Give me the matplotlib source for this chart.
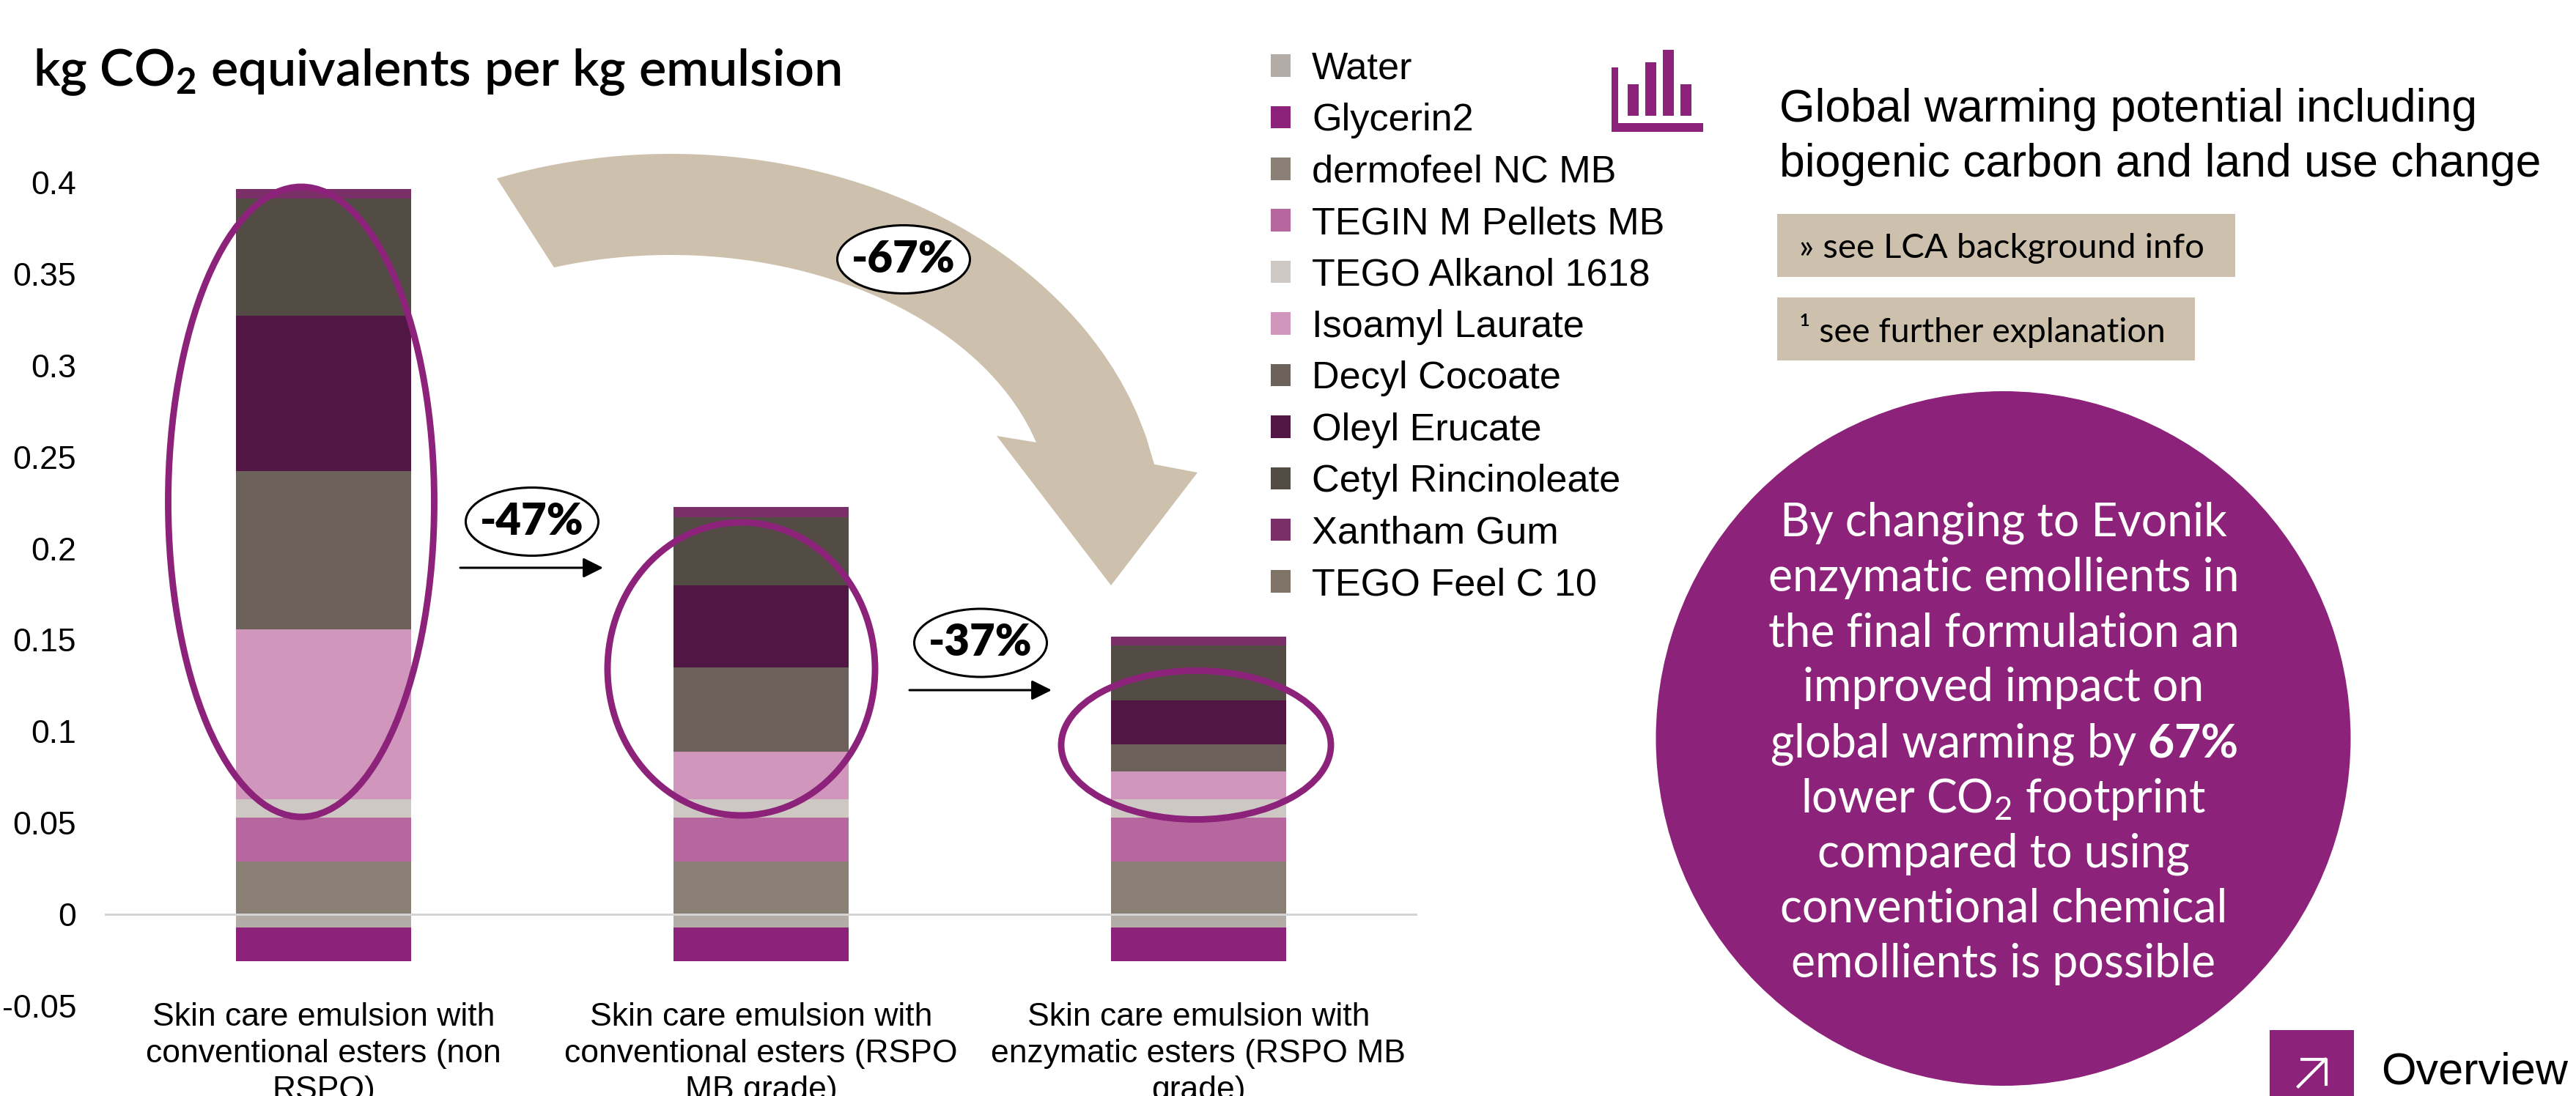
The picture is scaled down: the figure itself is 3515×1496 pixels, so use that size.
import numpy as np
import matplotlib
matplotlib.use("Agg")
import matplotlib.pyplot as plt
from matplotlib.patches import Ellipse, Rectangle, Polygon, Circle

W, H = 3516, 1496

plt.rcParams['font.family'] = ['Liberation Sans', 'DejaVu Sans']
plt.rcParams['mathtext.fontset'] = 'custom'
plt.rcParams['mathtext.rm'] = 'Lato'
plt.rcParams['mathtext.bf'] = 'Lato:bold'

categories = ["Skin care emulsion with\nconventional esters (non\nRSPO)",
              "Skin care emulsion with\nconventional esters (RSPO\nMB grade)",
              "Skin care emulsion with\nenzymatic esters (RSPO MB\ngrade)"]
y_ticks = [-0.05, 0, 0.05, 0.1, 0.15, 0.2, 0.25, 0.3, 0.35, 0.4]
y_labels = ["-0.05", "0", "0.05", "0.1", "0.15", "0.2", "0.25", "0.3", "0.35", "0.4"]

# values
water = [-0.0070, -0.0070, -0.0070]
glycerin = [-0.0184, -0.0184, -0.0184]
dermofeel = [0.0290, 0.0290, 0.0290]
tegin = [0.0240, 0.0240, 0.0240]
alkanol = [0.0100, 0.0100, 0.0100]
isoamyl = [0.0927, 0.0260, 0.0150]
decyl = [0.0867, 0.0458, 0.0151]
oleyl = [0.0849, 0.0449, 0.0238]
cetyl = [0.0638, 0.0375, 0.0302]
xantham = [0.0053, 0.0055, 0.0048]
tego_feel = [0.0, 0.0, 0.0]

series = ["Water", "Glycerin2", "dermofeel NC MB", "TEGIN M Pellets MB", "TEGO Alkanol 1618",
          "Isoamyl Laurate", "Decyl Cocoate", "Oleyl Erucate", "Cetyl Rincinoleate",
          "Xantham Gum", "TEGO Feel C 10"]
values = [water, glycerin, dermofeel, tegin, alkanol, isoamyl, decyl, oleyl, cetyl, xantham, tego_feel]
colors = ["#b3aba5", "#8c2279", "#8a7f75", "#b5679e", "#cdc8c3", "#d096bc",
          "#6c625b", "#521645", "#534c45", "#7a2f68", "#7f7367"]

purple = "#8c2279"
beige = "#cdc0ac"

fig = plt.figure(figsize=(W / 100, H / 100), dpi=100)

# chart axes: the ticks sit at 0.4 -> y=249 and -0.05 -> y=1373
ax = fig.add_axes([143 / W, 1 - 1373 / H, (1934 - 143) / W, (1373 - 249) / H])
pos_bottom = np.zeros(3)
neg_bottom = np.zeros(3)
x = np.arange(3)
handles = []
for name, vals, col in zip(series, values, colors):
    vals = np.array(vals)
    base = np.where(vals < 0, neg_bottom, pos_bottom)
    b = ax.bar(x, vals, 0.4, bottom=base, color=col, label=name, linewidth=0)
    handles.append(b)
    pos_bottom += np.clip(vals, 0, None)
    neg_bottom += np.clip(vals, None, 0)

ax.set_xlim(-0.5, 2.5)
ax.set_ylim(-0.05, 0.4)
ax.set_yticks(y_ticks)
ax.set_yticklabels(y_labels, fontsize=32)
ax.set_xticks([])
ax.tick_params(axis='y', length=0, pad=28)
for s in ax.spines.values():
    s.set_visible(False)
ax.axhline(0, color="#d4d4d4", lw=2.2, zorder=5)
ax.patch.set_alpha(0)

for xc, lab in zip(x, categories):
    ax.annotate(lab, (xc, 0), xycoords=ax.get_xaxis_transform(), xytext=(0, 3.6),
                textcoords='offset points', ha='center', va='top', fontsize=32, linespacing=1.28,
                annotation_clip=False)

fig.legend(handles=handles, labels=series, loc='upper left', bbox_to_anchor=(1734 / W, 1 - 70 / H),
           frameon=False, fontsize=37.6, borderpad=0, borderaxespad=0, handlelength=0.52,
           handleheight=0.52, handletextpad=0.55, labelspacing=0.41)

# overlay in reference pixels for the slide furniture
ov = fig.add_axes([0, 0, 1, 1])
ov.set_xlim(0, W)
ov.set_ylim(H, 0)
ov.axis('off')
ov.patch.set_alpha(0)

# highlight ellipses round the ester part of each bar
for cx, cy, w, h in [(411, 685, 363, 860), (1011.5, 913, 365, 400), (1632, 1017, 368, 203)]:
    ov.add_patch(Ellipse((cx, cy), w, h, fill=False, ec=purple, lw=6.4, zorder=6))

# big curved arrow, both edges are elliptical arcs
t_out = np.arcsin(np.linspace(678 - 915, 1575 - 915, 80) / 672)
outer = np.c_[915 + 672 * np.sin(t_out), 732 - 522 * np.cos(t_out)]
t_in = np.arcsin(np.linspace(1414 - 915, 756 - 915, 80) / 520)
inner = np.c_[915 + 520 * np.sin(t_in), 704 - 356 * np.cos(t_in)]
head = [(1634, 645), (1516, 799), (1360, 595)]
ov.add_patch(Polygon(np.vstack([outer, head, inner]), closed=True, fc=beige, ec='none', zorder=2))

# percent bubbles and small arrows
for cx, cy, txt in [(726, 712, "-47%"), (1338, 877.5, "-37%"), (1233, 354, "-67%")]:
    ov.add_patch(Ellipse((cx, cy), 181, 93, fc='white', ec='black', lw=2.2, zorder=7))
    ov.text(cx, cy, txt, ha='center', va='center', fontsize=43, fontweight='heavy', family='Lato', zorder=8)
for x0, x1, yy in [(628, 823, 775), (1241, 1435, 942)]:
    ov.annotate("", xy=(x1, yy), xytext=(x0, yy),
                arrowprops=dict(arrowstyle='-|>,head_length=0.69,head_width=0.345', color='black', lw=2.2,
                                shrinkA=0, shrinkB=0, mutation_scale=24))

ov.text(45, 99, r"kg CO$_{\mathbf{2}}$ equivalents per kg emulsion", fontsize=50.5, fontweight='semibold',
        family='Lato', ha='left', va='center')

# chart icon
for rx, ry, rw, rh in [(2199, 92, 9, 88), (2199, 168, 125, 12), (2221, 115, 15, 43),
                       (2245, 85, 15, 73), (2269, 68, 15, 90), (2293, 115, 15, 43)]:
    ov.add_patch(Rectangle((rx, ry), rw, rh, fc=purple, ec='none'))

ov.text(2428, 149, "Global warming potential including", fontsize=45, va='center')
ov.text(2428, 224, "biogenic carbon and land use change", fontsize=45, va='center')

ov.add_patch(Rectangle((2425, 292), 625, 86, fc=beige, ec='none'))
ov.add_patch(Rectangle((2425, 406), 570, 86, fc=beige, ec='none'))
ov.text(2455, 339, "» see LCA background info", fontsize=34, family='Lato', va='center')
ov.text(2455, 451, "¹ see further explanation", fontsize=33.5, family='Lato', va='center')

ov.add_patch(Circle((2733.5, 1008), 474, fc=purple, ec='none'))
circle_lines = ["By changing to Evonik", "enzymatic emollients in", "the final formulation an",
                "improved impact on", r"global warming by $\mathbf{67\%}$",
                r"lower CO$_{\mathrm{2}}$ footprint", "compared to using",
                "conventional chemical", "emollients is possible"]
for i, line in enumerate(circle_lines):
    ov.text(2734, 708 + i * 75.3, line, color='white', fontsize=45, family='Lato',
            ha='center', va='center_baseline')

ov.add_patch(Rectangle((3097, 1406), 115, 90, fc=purple, ec='none'))
ov.plot([3136, 3173], [1483, 1446], color='white', lw=3)
ov.plot([3141, 3174, 3174], [1446, 1446, 1480], color='white', lw=3)
ov.text(3249, 1464, "Overview", fontsize=44, va='center')

fig.savefig("out.png", dpi=100)
